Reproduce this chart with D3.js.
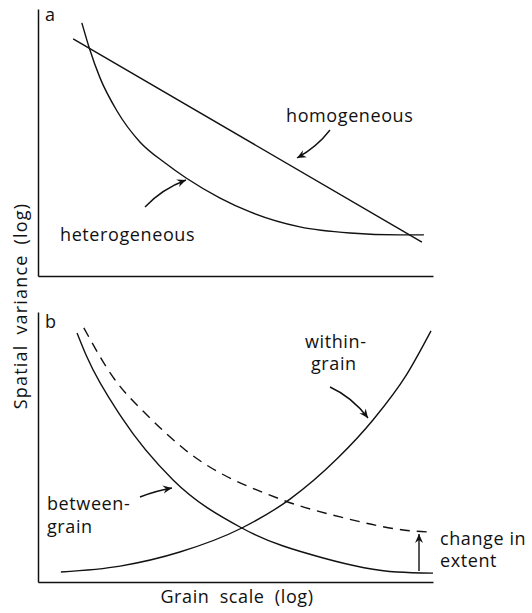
<!DOCTYPE html>
<html>
<head>
<meta charset="utf-8">
<script src="https://cdn.jsdelivr.net/npm/d3@7"></script>
<style>
  body { margin: 0; background: #fff; }
  text { font-family: "Open Sans", sans-serif; font-size: 18px; letter-spacing: 0.6px; fill: #111; }
</style>
</head>
<body>
<svg width="532" height="613"></svg>
<script>
// panel a: heterogeneous curve + homogeneous line (log grain vs log variance, arbitrary units)
const heteroX = [11.1, 12.9, 15.7, 20.0, 25.8, 32.2, 37.5, 46.1, 53.7, 66.3, 79.0, 91.6, 97.7];
const heteroY = [94.8, 85.8, 74.2, 61.8, 50.2, 42.3, 36.7, 29.2, 24.0, 18.4, 16.1, 15.4, 15.4];
const homoX = [8.9, 97.2];
const homoY = [88.8, 12.7];

// panel b: between-grain, between-grain at larger extent (dashed), within-grain
const betweenX = [9.9, 12.4, 21.3, 34.2, 51.6, 72.2, 90.9, 100];
const betweenY = [92.2, 83.3, 60.7, 37.8, 20.0, 8.9, 3.7, 3.3];
const extentX = [11.6, 19.0, 28.4, 36.7, 61.3, 76.5, 94.9, 99.2];
const extentY = [94.1, 75.9, 60.7, 49.6, 30.7, 24.1, 18.9, 18.5];
const withinX = [5.8, 20.8, 35.9, 51.6, 63.8, 75.9, 84.8, 93.4, 99.5];
const withinY = [3.7, 5.9, 11.1, 20.0, 30.7, 45.9, 60.0, 77.0, 93.0];

const panelLabels = ["a", "b"];
const xTitle = "Grain scale (log)";
const yTitle = "Spatial variance (log)";

const svg = d3.select("svg");

const x = d3.scaleLinear().domain([0, 100]).range([38, 433]);
const yA = d3.scaleLinear().domain([0, 100]).range([276, 9]);
const yB = d3.scaleLinear().domain([0, 100]).range([582, 312]);

const zip = (xs, ys) => xs.map((d, i) => [d, ys[i]]);

svg.append("defs").append("marker")
    .attr("id", "head")
    .attr("viewBox", "-10 -5 12 10")
    .attr("refX", 0).attr("refY", 0)
    .attr("markerWidth", 12).attr("markerHeight", 10)
    .attr("markerUnits", "userSpaceOnUse")
    .attr("orient", "auto")
  .append("path")
    .attr("d", "M0,0 L-9,-4 L-6,0 L-9,4 Z")
    .attr("fill", "#111");

// axes: bare frame lines, no ticks
function frame(yScale) {
    const g = svg.append("g");
    g.append("g")
        .attr("transform", "translate(" + x(0) + ",0)")
        .call(d3.axisLeft(yScale).tickValues([]).tickSizeOuter(0));
    g.append("g")
        .attr("transform", "translate(0," + yScale(0) + ")")
        .call(d3.axisBottom(x).tickValues([]).tickSizeOuter(0));
    g.selectAll(".domain").attr("stroke", "#111").attr("stroke-width", 1.5);
}
frame(yA);
frame(yB);

function curve(xs, ys, yScale, dash) {
    const line = d3.line()
        .x(d => x(d[0]))
        .y(d => yScale(d[1]))
        .curve(d3.curveMonotoneX);
    svg.append("path")
        .attr("d", line(zip(xs, ys)))
        .attr("fill", "none")
        .attr("stroke", "#111")
        .attr("stroke-width", 1.4)
        .attr("stroke-dasharray", dash || null);
}
curve(heteroX, heteroY, yA);
curve(homoX, homoY, yA);
curve(betweenX, betweenY, yB);
curve(extentX, extentY, yB, "10,7");
curve(withinX, withinY, yB);

// panel letters
svg.selectAll(".panel")
    .data(panelLabels)
    .enter().append("text")
    .attr("class", "panel")
    .attr("x", 45)
    .attr("y", (d, i) => i === 0 ? 21 : 328)
    .text(d => d);

// annotation labels
const notes = [
    {t: "homogeneous", x: 286, y: 122},
    {t: "heterogeneous", x: 60, y: 241},
    {t: "within-", x: 305, y: 348},
    {t: "grain", x: 311, y: 370},
    {t: "between-", x: 47, y: 510},
    {t: "grain", x: 47, y: 533},
    {t: "change in", x: 440, y: 545},
    {t: "extent", x: 440, y: 567}
];
svg.selectAll(".note")
    .data(notes)
    .enter().append("text")
    .attr("class", "note")
    .attr("x", d => d.x)
    .attr("y", d => d.y)
    .text(d => d.t);

// pointer arrows
const arrows = [
    "M330,130 Q317,147 297,158",
    "M145,207 Q162,189 186,180",
    "M140,497 Q155,491 172,488",
    "M330,387 Q352,397 368,418",
    "M419,571 L419,534"
];
svg.selectAll(".arrow")
    .data(arrows)
    .enter().append("path")
    .attr("class", "arrow")
    .attr("d", d => d)
    .attr("fill", "none")
    .attr("stroke", "#111")
    .attr("stroke-width", 1.4)
    .attr("marker-end", "url(#head)");

// axis titles
svg.append("text")
    .attr("x", 237)
    .attr("y", 603)
    .attr("text-anchor", "middle")
    .style("word-spacing", "5px")
    .text(xTitle);

svg.append("text")
    .attr("transform", "translate(27,306) rotate(-90)")
    .attr("text-anchor", "middle")
    .style("letter-spacing", "1.2px")
    .style("word-spacing", "4px")
    .text(yTitle);
</script>
</body>
</html>
